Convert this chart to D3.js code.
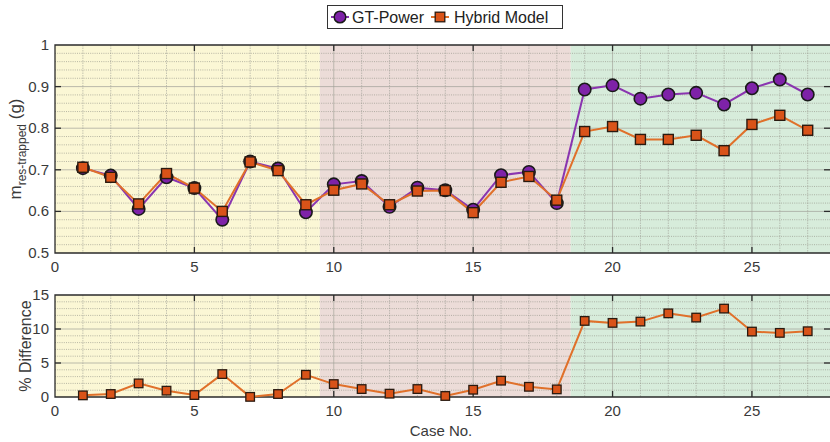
<!DOCTYPE html>
<html>
<head>
<meta charset="utf-8">
<script src="https://cdn.jsdelivr.net/npm/d3@7"></script>
<style>
  html, body { margin: 0; padding: 0; background: #fff; }
  svg { display: block; font-family: "Liberation Sans", Arial, Helvetica, sans-serif; }
</style>
</head>
<body>
<svg id="chart" width="830" height="442"></svg>
<script>
// Case numbers 1..27
const cases = [1,2,3,4,5,6,7,8,9,10,11,12,13,14,15,16,17,18,19,20,21,22,23,24,25,26,27];

// Trapped residual mass (g)
const gtPower = [0.704,0.686,0.606,0.682,0.656,0.580,0.720,0.703,0.598,
                 0.665,0.673,0.611,0.657,0.651,0.604,0.687,0.695,0.620,
                 0.893,0.903,0.871,0.881,0.885,0.857,0.896,0.917,0.881];
const hybrid  = [0.706,0.682,0.618,0.691,0.656,0.600,0.719,0.698,0.616,
                 0.651,0.666,0.616,0.649,0.650,0.597,0.670,0.684,0.627,
                 0.792,0.804,0.773,0.773,0.783,0.746,0.809,0.831,0.795];

// Percentage difference between the two models
const pctDiff = [0.24,0.44,2.0,0.93,0.29,3.37,0.02,0.44,3.27,
                 1.9,1.17,0.49,1.17,0.15,1.07,2.4,1.5,1.12,
                 11.19,10.9,11.09,12.3,11.68,13.0,9.62,9.43,9.67];

// Shaded operating regions along the case axis
const regions = [
  { from: 0,   to: 9.5,  color: "#fbf7d5" },
  { from: 9.5, to: 18.5, color: "#ecdcd8" },
  { from: 18.5, to: 28,  color: "#d7ecdb" }
];

const xTicks = [0,5,10,15,20,25];
const yTicksTop = [0.5,0.6,0.7,0.8,0.9,1];
const yTicksBot = [0,5,10,15];

const purple = "#7e22a8";
const purpleLine = "#8a35b0";
const orange = "#d95319";
const orangeLine = "#e0702a";
const axisColor = "#2b2b2b";
const textColor = "#3a3a3a";

const svg = d3.select("#chart");

const x = d3.scaleLinear().domain([0, 27.8]).range([55, 830]);

function panel(opts) {
  const { y0, y1, yDomain, majorStep, minorStep, yTicks, yFmt } = opts;
  const y = d3.scaleLinear().domain(yDomain).range([y1, y0]);
  const g = svg.append("g");
  const clipId = "clip" + Math.round(y0);
  svg.append("clipPath").attr("id", clipId)
    .append("rect").attr("x", x(0)).attr("y", y0).attr("width", x.range()[1] - x(0)).attr("height", y1 - y0);

  // region shading
  g.append("g").attr("clip-path", `url(#${clipId})`)
    .selectAll("rect").data(regions).join("rect")
    .attr("x", d => x(d.from)).attr("width", d => x(d.to) - x(d.from))
    .attr("y", y0).attr("height", y1 - y0)
    .attr("fill", d => d.color);

  // grid
  const grid = g.append("g").attr("clip-path", `url(#${clipId})`);
  const xMinor = d3.range(1, 28).filter(v => v % 5 !== 0);
  grid.selectAll("line.vx").data(xMinor).join("line")
    .attr("x1", d => x(d)).attr("x2", d => x(d)).attr("y1", y0).attr("y2", y1)
    .attr("stroke", "#a0a098").attr("stroke-opacity", 0.6).attr("stroke-width", 1)
    .attr("stroke-dasharray", "1.5,1");
  grid.selectAll("line.vmaj").data(xTicks.filter(v => v > 0)).join("line")
    .attr("x1", d => x(d)).attr("x2", d => x(d)).attr("y1", y0).attr("y2", y1)
    .attr("stroke", "#a0a098").attr("stroke-opacity", 0.65).attr("stroke-width", 1);
  const n = Math.round((yDomain[1] - yDomain[0]) / minorStep);
  const yMinor = d3.range(1, n).map(i => yDomain[0] + i * minorStep)
    .filter(v => Math.abs(v / majorStep - Math.round(v / majorStep)) > 1e-6);
  grid.selectAll("line.hy").data(yMinor).join("line")
    .attr("x1", x(0)).attr("x2", x.range()[1]).attr("y1", d => y(d)).attr("y2", d => y(d))
    .attr("stroke", "#949488").attr("stroke-opacity", 0.65).attr("stroke-width", 1)
    .attr("stroke-dasharray", "1,1.2");
  grid.selectAll("line.hmaj").data(yTicks.slice(1, -1)).join("line")
    .attr("x1", x(0)).attr("x2", x.range()[1]).attr("y1", d => y(d)).attr("y2", d => y(d))
    .attr("stroke", "#a0a098").attr("stroke-opacity", 0.7).attr("stroke-width", 1);

  // frame
  const xr = x.range()[1];
  g.append("path")
    .attr("d", `M${xr + 2},${y0}H${x(0)}V${y1}H${xr + 2}`)
    .attr("fill", "none").attr("stroke", axisColor).attr("stroke-width", 1.3);

  // inward ticks
  const tl = 6;
  const ticks = g.append("g").attr("stroke", axisColor).attr("stroke-width", 1.3);
  xTicks.filter(v => v > 0).forEach(v => {
    ticks.append("line").attr("x1", x(v)).attr("x2", x(v)).attr("y1", y1).attr("y2", y1 - tl);
    ticks.append("line").attr("x1", x(v)).attr("x2", x(v)).attr("y1", y0).attr("y2", y0 + tl);
  });
  yTicks.slice(1, -1).forEach(v => {
    ticks.append("line").attr("x1", x(0)).attr("x2", x(0) + tl).attr("y1", y(v)).attr("y2", y(v));
    ticks.append("line").attr("x1", xr - tl).attr("x2", xr).attr("y1", y(v)).attr("y2", y(v));
  });

  // tick labels
  g.append("g").selectAll("text").data(xTicks).join("text")
    .attr("x", d => x(d)).attr("y", y1 + 19)
    .attr("text-anchor", "middle").attr("font-size", 15).attr("fill", textColor)
    .text(d => d);
  g.append("g").selectAll("text").data(yTicks).join("text")
    .attr("x", x(0) - 6).attr("y", d => y(d) + 5)
    .attr("text-anchor", "end").attr("font-size", 15).attr("fill", textColor)
    .text(yFmt);
  return { y, g };
}

// ---- upper panel: trapped residual mass ----
const upper = panel({ y0: 45, y1: 253, yDomain: [0.5, 1], majorStep: 0.1, minorStep: 0.02,
  yTicks: yTicksTop, yFmt: d => d === 1 ? "1" : d3.format(".1f")(d) });
const yT = upper.y;

const lineT = ys => d3.line().x((d, i) => x(cases[i])).y(d => yT(d))(ys);
upper.g.append("path").attr("d", lineT(gtPower)).attr("fill", "none")
  .attr("stroke", purpleLine).attr("stroke-width", 2);
upper.g.append("path").attr("d", lineT(hybrid)).attr("fill", "none")
  .attr("stroke", orangeLine).attr("stroke-width", 2);
upper.g.append("g").selectAll("circle").data(gtPower).join("circle")
  .attr("cx", (d, i) => x(cases[i])).attr("cy", d => yT(d)).attr("r", 6.2)
  .attr("fill", purple).attr("stroke", "#1a1a1a").attr("stroke-width", 1.6);
upper.g.append("g").selectAll("rect").data(hybrid).join("rect")
  .attr("x", (d, i) => x(cases[i]) - 5).attr("y", d => yT(d) - 5)
  .attr("width", 10).attr("height", 10)
  .attr("fill", orange).attr("stroke", "#2a1a10").attr("stroke-width", 1.4);

// y label with subscript
const yl = svg.append("text")
  .attr("transform", "translate(21,149) rotate(-90)")
  .attr("text-anchor", "middle").attr("font-size", 17).attr("fill", textColor);
yl.append("tspan").text("m");
yl.append("tspan").attr("font-size", 12).attr("dy", 5).text("res-trapped");
yl.append("tspan").attr("dy", -5).text(" (g)");

// ---- lower panel: percentage difference ----
const lower = panel({ y0: 295, y1: 397, yDomain: [0, 15], majorStep: 5, minorStep: 1,
  yTicks: yTicksBot, yFmt: d => d });
const yB = lower.y;
lower.g.append("path")
  .attr("d", d3.line().x((d, i) => x(cases[i])).y(d => yB(d))(pctDiff))
  .attr("fill", "none").attr("stroke", orangeLine).attr("stroke-width", 2);
lower.g.append("g").selectAll("rect").data(pctDiff).join("rect")
  .attr("x", (d, i) => x(cases[i]) - 4.3).attr("y", d => yB(d) - 4.3)
  .attr("width", 8.6).attr("height", 8.6)
  .attr("fill", orange).attr("stroke", "#2a1a10").attr("stroke-width", 1.3);

svg.append("text")
  .attr("transform", "translate(31,346) rotate(-90)")
  .attr("text-anchor", "middle").attr("font-size", 16).attr("fill", textColor)
  .text("% Difference");

svg.append("text").attr("x", 441).attr("y", 436)
  .attr("text-anchor", "middle").attr("font-size", 15).attr("fill", textColor)
  .text("Case No.");

// ---- legend ----
const lg = svg.append("g");
lg.append("rect").attr("x", 327.5).attr("y", 5.5).attr("width", 235).attr("height", 23)
  .attr("fill", "#fff").attr("stroke", "#333").attr("stroke-width", 1);
lg.append("line").attr("x1", 331).attr("x2", 349).attr("y1", 17).attr("y2", 17)
  .attr("stroke", purpleLine).attr("stroke-width", 2);
lg.append("circle").attr("cx", 340).attr("cy", 17).attr("r", 5.8)
  .attr("fill", purple).attr("stroke", "#1a1a1a").attr("stroke-width", 1.5);
lg.append("text").attr("x", 352).attr("y", 23).attr("font-size", 16).attr("fill", "#222")
  .text("GT-Power");
lg.append("line").attr("x1", 431).attr("x2", 449).attr("y1", 17).attr("y2", 17)
  .attr("stroke", orangeLine).attr("stroke-width", 2);
lg.append("rect").attr("x", 435.2).attr("y", 12.2).attr("width", 9.6).attr("height", 9.6)
  .attr("fill", orange).attr("stroke", "#2a1a10").attr("stroke-width", 1.3);
lg.append("text").attr("x", 454).attr("y", 23).attr("font-size", 16).attr("fill", "#222")
  .text("Hybrid Model");
</script>
</body>
</html>
